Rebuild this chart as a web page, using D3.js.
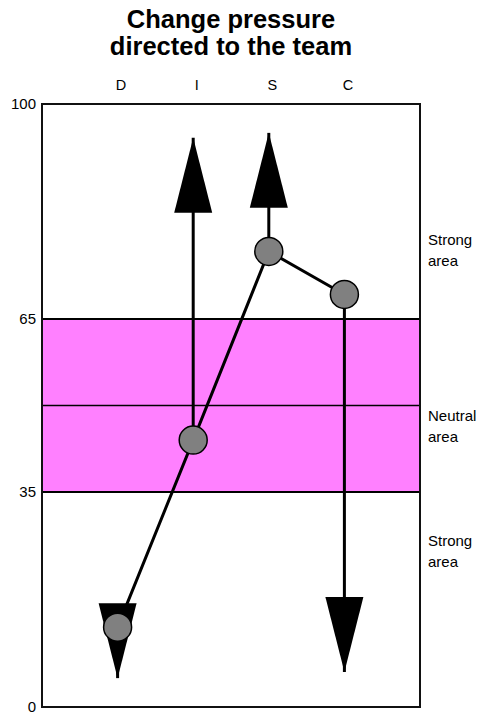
<!DOCTYPE html>
<html><head><meta charset="utf-8">
<script src="https://cdn.jsdelivr.net/npm/d3@7"></script>
<style>body{margin:0;background:#fff}svg{display:block}text{font-family:Arial,"Liberation Sans",sans-serif}</style>
</head><body>
<script>
const titleLines = ["Change pressure", "directed to the team"];
const categories = ["D", "I", "S", "C"];
const values = [13, 44, 76, 69];
const arrowEnds = [4.7, 94.5, 95.3, 5.7];
const yTicks = [0, 35, 65, 100];
const neutralBand = [35, 65];
const midLine = [50];
const areaLabels = [["Strong", "area"], ["Neutral", "area"], ["Strong", "area"]];
const areaLabelValues = [77, 47.3, 26.2];

const W = 482, H = 713;
const svg = d3.select("body").append("svg").attr("width", W).attr("height", H);
const L = 42, R = 420, T = 104, B = 707;

const x = d3.scalePoint().domain(categories).range([L, R]).padding(1);
const y = d3.scaleLinear().domain([0, 35, 65, 100]).range([B, 492, 319, T]);

// title
svg.append("g").selectAll("text").data(titleLines).join("text")
  .attr("x", (L + R) / 2).attr("y", (d, i) => 28 + i * 27)
  .attr("text-anchor", "middle").attr("font-size", 25.5).attr("font-weight", "bold").text(d => d);

// band
svg.append("rect").attr("x", L).attr("y", y(neutralBand[1])).attr("width", R - L)
  .attr("height", y(neutralBand[0]) - y(neutralBand[1])).attr("fill", "#ff80ff");
svg.append("g").selectAll("line").data(midLine).join("line")
  .attr("x1", L).attr("x2", R).attr("y1", d => y(d)).attr("y2", d => y(d))
  .attr("stroke", "#000").attr("stroke-width", 1.5);
svg.append("g").selectAll("line").data(neutralBand).join("line")
  .attr("x1", L).attr("x2", R).attr("y1", d => y(d)).attr("y2", d => y(d))
  .attr("stroke", "#000").attr("stroke-width", 1.8);

// frame
svg.append("rect").attr("x", L).attr("y", T).attr("width", R - L).attr("height", B - T)
  .attr("fill", "none").attr("stroke", "#111").attr("stroke-width", 2);

// y ticks
svg.append("g").selectAll("text").data(yTicks).join("text")
  .attr("x", L - 6).attr("y", d => y(d)).attr("dy", "0.35em")
  .attr("text-anchor", "end").attr("font-size", 15).text(d => d);

// column labels
svg.append("g").selectAll("text").data(categories).join("text")
  .attr("x", d => x(d) + 3.5).attr("y", 90)
  .attr("text-anchor", "middle").attr("font-size", 14.5).text(d => d);

// area labels
const al = svg.append("g").selectAll("text").data(areaLabels).join("text")
  .attr("x", 428).attr("y", (d, i) => y(areaLabelValues[i])).attr("dy", "0.35em").attr("font-size", 15);
al.selectAll("tspan").data(d => d).join("tspan")
  .attr("x", 428).attr("dy", (d, i) => i === 0 ? 0 : 21).text(d => d);

const pts = categories.map((c, i) => ({ c, v: values[i], e: arrowEnds[i] }));

// arrow shafts
svg.append("g").selectAll("line").data(pts).join("line")
  .attr("x1", d => x(d.c)).attr("x2", d => x(d.c))
  .attr("y1", d => y(d.v)).attr("y2", d => y(d.e))
  .attr("stroke", "#000").attr("stroke-width", 3);

// connecting line
svg.append("path").datum(pts)
  .attr("d", d3.line().x(d => x(d.c)).y(d => y(d.v)))
  .attr("fill", "none").attr("stroke", "#000").attr("stroke-width", 3);

// arrow heads
const headLen = 75, headHalf = 19;
svg.append("g").selectAll("path").data(pts).join("path")
  .attr("d", d => {
    const tx = x(d.c), ty = y(d.e);
    const dir = d.e > d.v ? 1 : -1; // 1 = up
    const by = ty + dir * headLen;
    return `M${tx},${ty}L${tx - headHalf},${by}L${tx + headHalf},${by}Z`;
  })
  .attr("fill", "#000");

// points
svg.append("g").selectAll("circle").data(pts).join("circle")
  .attr("cx", d => x(d.c)).attr("cy", d => y(d.v)).attr("r", 14)
  .attr("fill", "#808080").attr("stroke", "#000").attr("stroke-width", 1.5);
</script>
</body></html>
